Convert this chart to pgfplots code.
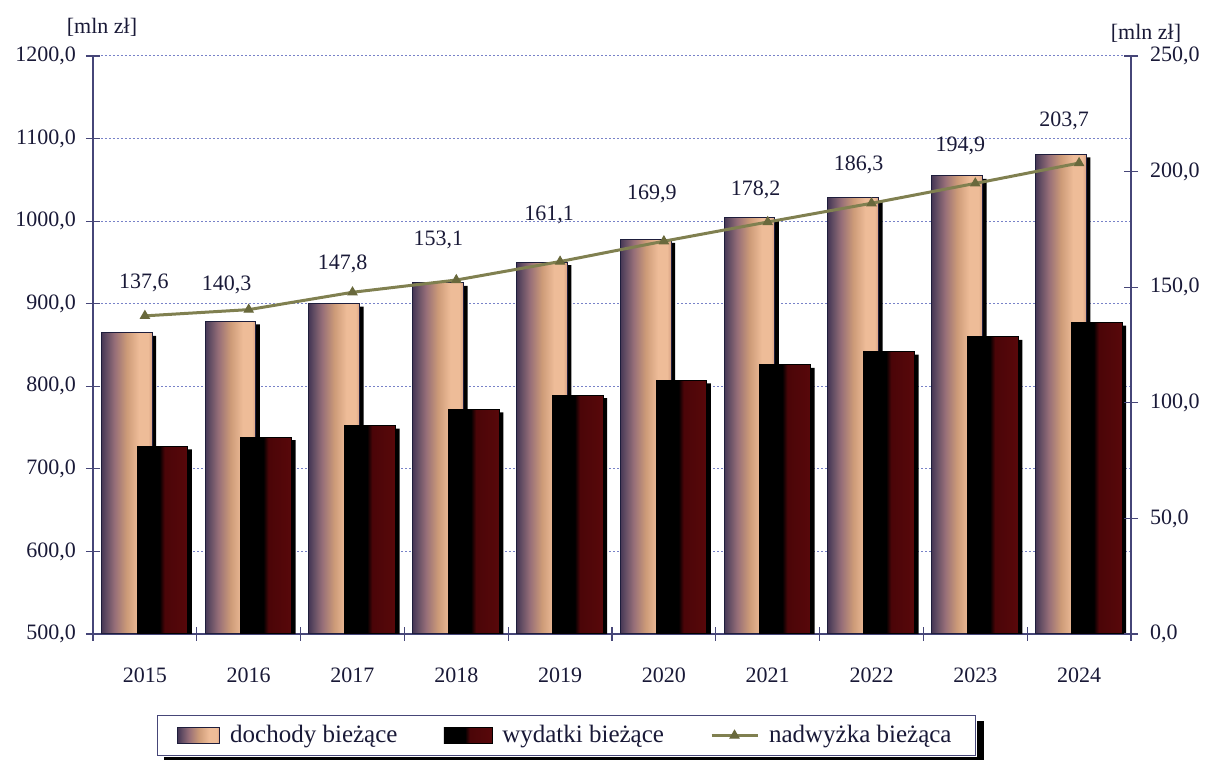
\documentclass[border=0pt]{standalone}
\usepackage{fontspec}
\setmainfont{Liberation Serif}
\usepackage{pgfplots}
\usepackage{pgfplotstable}
\pgfplotsset{compat=1.18}

\definecolor{txt}{RGB}{25,25,55}
\definecolor{axc}{RGB}{70,70,120}
\definecolor{gridc}{RGB}{120,130,200}
\definecolor{dA}{RGB}{70,55,85}
\definecolor{dA2}{RGB}{100,78,100}
\definecolor{dB}{RGB}{150,110,120}
\definecolor{dC}{RGB}{205,155,120}
\definecolor{dD}{RGB}{238,188,152}
\definecolor{dE}{RGB}{215,160,130}
\definecolor{wr}{RGB}{75,5,8}
\definecolor{wr2}{RGB}{88,8,10}
\definecolor{linec}{RGB}{128,128,80}
\definecolor{markc}{RGB}{105,105,60}

\pgfdeclarehorizontalshading{docsh}{100bp}{color(0bp)=(dA); color(25bp)=(dA); color(30bp)=(dA2); color(38bp)=(dB); color(50bp)=(dC); color(62bp)=(dD); color(71bp)=(dD); color(75bp)=(dE); color(100bp)=(dE)}
\pgfdeclarehorizontalshading{wydsh}{100bp}{color(0bp)=(black); color(25bp)=(black); color(47bp)=(black); color(52bp)=(wr); color(75bp)=(wr2); color(100bp)=(wr2)}

\pgfplotstableread{
x doch wyd
0 864.7 727.1
1 878.7 738.4
2 900.0 752.2
3 925.1 772.0
4 950.4 789.3
5 977.2 807.3
6 1004.2 826.0
7 1028.2 841.9
8 1054.7 859.8
9 1080.8 877.1
}\bars

\pgfplotstableread{
x n dx dy
0 137.6 -0.5 16.5
1 140.3 -11 12.5
2 147.8 -5 14
3 153.1 -9 20
4 161.1 -5.5 23.5
5 169.9 -6 23.5
6 178.2 -6 16
7 186.3 -6.5 19
8 194.9 -7.5 18.5
9 203.7 -7.5 21
}\surplus

\pgfplotsset{
  base/.style={
    scale only axis, width=519pt, height=289pt,
    at={(46.5pt,63pt)}, anchor=south west,
    xmin=-0.5, xmax=9.5,
    font=\fontsize{11}{13}\selectfont,
    tick label style={text=txt},
    major tick length=7pt, tick align=center,
    tick style={axc, line width=0.6pt},
    axis line style={axc, line width=0.6pt},
    /pgf/number format/.cd, fixed, fixed zerofill, precision=1, use comma, 1000 sep={}, assume math mode=true,
  },
  linelegend/.style={legend image code/.code={\draw[mark repeat=2, mark phase=2, ##1] plot coordinates {(0pt,0pt) (11.5pt,0pt) (23pt,0pt)};}},
  doclegend/.style={legend image code/.code={\draw[draw={rgb,255:red,30;green,30;blue,60}, shading=docsh] (0pt,-4pt) rectangle (21pt,4pt);}},
  wydlegend/.style={legend image code/.code={\draw[draw=black, shading=wydsh] (0pt,-4pt) rectangle (24pt,4pt);}},
}

\begin{document}
\begin{tikzpicture}
\path[use as bounding box] (0,0) rectangle (603pt,380pt);

\begin{axis}[base,
  ymin=500, ymax=1200, ytick={500,600,...,1200},
  axis x line*=bottom, axis y line*=left,
  xtick={-0.5,0.5,...,9.5}, x tick label as interval,
  xticklabels={2015,2016,2017,2018,2019,2020,2021,2022,2023,2024},
  xticklabel style={yshift=-10pt},
  yticklabel style={xshift=-1.5pt},
  ymajorgrids, grid style={gridc, dash pattern=on 1pt off 1pt, line width=0.5pt},
]
% shadow of dochody
\addplot[ybar, bar width=0.49, bar shift=-0.137, fill=black, draw=none, yshift=-1.5pt, forget plot]
  table[x=x, y=doch]{\bars};
\pgfplotsinvokeforeach{0,...,9}{
\addplot[ybar, bar width=0.49, bar shift=-0.175, draw={rgb,255:red,30;green,30;blue,60}, line width=0.5pt,
  shading=docsh, forget plot]
  table[x=x, y=doch, restrict expr to domain={\coordindex}{#1:#1}]{\bars};
}
% shadow of wydatki
\addplot[ybar, bar width=0.49, bar shift=0.208, fill=black, draw=none, yshift=-1.5pt, forget plot]
  table[x=x, y=wyd]{\bars};
\pgfplotsinvokeforeach{0,...,9}{
\addplot[ybar, bar width=0.49, bar shift=0.17, draw=black, line width=0.5pt,
  shading=wydsh, forget plot]
  table[x=x, y=wyd, restrict expr to domain={\coordindex}{#1:#1}]{\bars};
}
\end{axis}

\begin{axis}[base,
  ymin=0, ymax=250, ytick={0,50,...,250},
  axis y line*=right, axis x line=none,
  yticklabel style={xshift=2.5pt},
  legend columns=3,
  legend style={at={(0.0617,-0.140)}, anchor=north west, draw=axc, fill=white,
    text=txt, font=\fontsize{12.5}{14}\selectfont, name=leg,
    inner xsep=10pt, inner ysep=3pt,
    /tikz/every even column/.append style={column sep=21pt},
    /tikz/every odd column/.append style={column sep=3pt}},
]
\addlegendimage{doclegend}
\addlegendentry{dochody bieżące}
\addlegendimage{wydlegend}
\addlegendentry{wydatki bieżące}
\addplot[linec, line width=1.5pt, mark=triangle*, mark size=2.6pt,
  mark options={fill=markc, draw=markc, line width=0.5pt},
  linelegend,
  point meta=y,
  visualization depends on={\thisrow{dx}\as\dx},
  visualization depends on={\thisrow{dy}\as\dy},
  nodes near coords={\pgfmathprintnumber{\pgfplotspointmeta}},
  nodes near coords style={text=txt, anchor=center, xshift=\dx pt, yshift=\dy pt, font=\fontsize{11}{13}\selectfont},
]
  table[x=x, y=n]{\surplus};
\addlegendentry{nadwyżka bieżąca}
\end{axis}

\fill[black] ([xshift=0.3pt]leg.north east) ++(0,-3pt) rectangle ([xshift=4pt,yshift=-3.5pt]leg.south east);
\fill[black] ([xshift=3.5pt,yshift=-0.3pt]leg.south west) rectangle ([xshift=4pt,yshift=-3.5pt]leg.south east);

\node[text=txt, font=\fontsize{11}{13}\selectfont] at (51pt,366.5pt) {[mln zł]};
\node[text=txt, font=\fontsize{11}{13}\selectfont] at (573pt,363.5pt) {[mln zł]};
\end{tikzpicture}
\end{document}
